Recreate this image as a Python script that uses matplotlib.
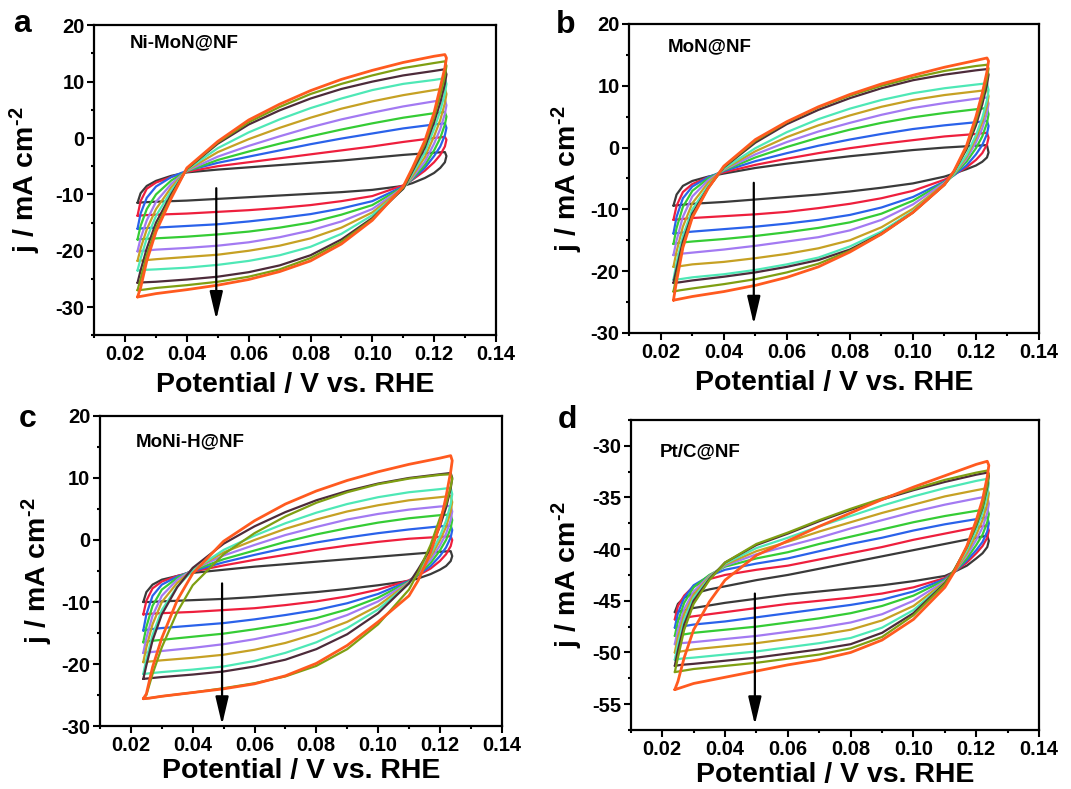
import matplotlib
matplotlib.use('Agg')
import matplotlib.pyplot as plt
from matplotlib.ticker import MultipleLocator, FormatStrFormatter

plt.rcParams['font.family'] = 'Liberation Sans'
plt.rcParams['font.weight'] = 'bold'
plt.rcParams['axes.unicode_minus'] = False
plt.rcParams['mathtext.fontset'] = 'custom'
plt.rcParams['mathtext.rm'] = 'Liberation Sans:bold'
plt.rcParams['mathtext.bf'] = 'Liberation Sans:bold'
plt.rcParams['mathtext.default'] = 'bf'

# potential points (V vs. RHE): forward sweep, then reverse sweep
E_FWD = [0.024, 0.025, 0.027, 0.030, 0.035, 0.040, 0.050, 0.060, 0.070, 0.080, 0.090, 0.100, 0.110, 0.120, 0.1235]
E_REV = [0.124, 0.1235, 0.122, 0.120, 0.117, 0.113, 0.110, 0.100, 0.090, 0.080, 0.070, 0.060, 0.050, 0.040, 0.030, 0.026, 0.024]

# one colour per scan rate, slowest first
RATE_COLORS = ['#3a3a3a', '#ee1f3d', '#2a62ea', '#35cc35', '#a37af2',
               '#c6a124', '#4ee8b6', '#4d2b3a', '#7f9f12', '#ff5a1f']

# Ni-MoN@NF, current density (mA cm-2)
NIMON_FWD = [
    [-11.5, -9.8, -8.5, -7.6, -6.7, -6.1, -5.6, -5.2, -4.8, -4.4, -4.0, -3.5, -3.0, -2.6, -2.5],
    [-13.8, -11.2, -9.0, -7.9, -6.9, -6.0, -5.0, -4.3, -3.6, -2.9, -2.2, -1.5, -0.7, 0.0, 0.2],
    [-16.1, -13.4, -10.6, -8.6, -6.9, -5.8, -4.4, -3.3, -2.2, -1.1, -0.1, 0.8, 1.7, 2.4, 2.6],
    [-18.0, -15.6, -12.6, -10.0, -7.5, -5.9, -3.9, -2.4, -1.0, 0.3, 1.5, 2.6, 3.6, 4.4, 4.6],
    [-20.1, -17.8, -14.6, -11.3, -8.1, -5.8, -3.3, -1.4, 0.3, 1.9, 3.3, 4.5, 5.6, 6.5, 6.8],
    [-21.8, -19.6, -16.2, -12.6, -8.7, -5.7, -2.5, -0.2, 1.8, 3.6, 5.2, 6.5, 7.6, 8.5, 8.8],
    [-23.5, -21.4, -17.8, -13.8, -9.3, -5.6, -1.8, 1.0, 3.3, 5.3, 7.0, 8.5, 9.6, 10.3, 10.6],
    [-25.7, -23.5, -19.6, -15.0, -9.9, -5.5, -1.0, 2.4, 4.9, 7.0, 8.7, 10.0, 11.1, 11.9, 12.2],
    [-27.0, -25.0, -20.8, -15.9, -10.3, -5.4, -0.8, 2.8, 5.5, 7.8, 9.6, 11.1, 12.4, 13.3, 13.6],
    [-28.2, -26.6, -21.8, -16.6, -10.6, -5.3, -0.6, 3.2, 6.0, 8.4, 10.4, 12.0, 13.4, 14.5, 14.8],
]
NIMON_REV = [
    [-3.2, -4.3, -5.3, -6.2, -7.1, -8.0, -8.5, -9.2, -9.6, -9.9, -10.2, -10.5, -10.8, -11.1, -11.3, -11.4, -11.5],
    [-0.3, -1.5, -3.0, -4.3, -5.8, -7.4, -8.4, -10.3, -11.2, -11.9, -12.4, -12.8, -13.1, -13.4, -13.6, -13.7, -13.8],
    [1.8, 0.5, -1.5, -3.2, -5.3, -7.3, -8.6, -11.2, -12.5, -13.5, -14.2, -14.8, -15.3, -15.6, -15.9, -16.0, -16.1],
    [3.8, 2.4, 0.0, -2.2, -4.8, -7.2, -8.7, -11.9, -13.6, -15.0, -15.9, -16.6, -17.1, -17.5, -17.8, -17.9, -18.0],
    [5.8, 4.3, 1.6, -1.0, -4.2, -7.0, -8.8, -12.6, -14.8, -16.4, -17.6, -18.5, -19.1, -19.5, -19.8, -20.0, -20.1],
    [7.8, 6.2, 3.2, 0.3, -3.4, -6.7, -8.9, -13.2, -15.9, -17.8, -19.1, -20.0, -20.7, -21.1, -21.5, -21.7, -21.8],
    [9.6, 7.9, 4.8, 1.6, -2.6, -6.3, -9.0, -13.7, -17.0, -19.3, -20.8, -21.8, -22.5, -23.0, -23.3, -23.4, -23.5],
    [11.3, 9.6, 6.3, 2.8, -1.7, -5.9, -9.0, -14.2, -18.0, -20.8, -22.6, -23.8, -24.6, -25.1, -25.5, -25.6, -25.7],
    [12.8, 11.0, 7.6, 3.7, -1.1, -5.6, -8.8, -14.4, -18.4, -21.3, -23.3, -24.6, -25.5, -26.1, -26.6, -26.9, -27.0],
    [14.2, 12.5, 9.0, 4.5, -0.5, -5.3, -8.6, -14.6, -18.8, -21.8, -23.7, -25.1, -26.1, -26.9, -27.6, -28.0, -28.2],
]

# MoN@NF
MON_FWD = [
    [-9.4, -7.6, -6.2, -5.4, -4.7, -4.2, -3.3, -2.6, -2.0, -1.4, -0.9, -0.4, 0.0, 0.3, 0.4],
    [-11.7, -9.4, -7.2, -5.9, -4.8, -4.0, -2.8, -1.8, -0.9, -0.1, 0.6, 1.2, 1.8, 2.2, 2.4],
    [-13.9, -11.2, -8.2, -6.3, -4.8, -3.8, -2.2, -0.9, 0.3, 1.3, 2.2, 3.0, 3.6, 4.1, 4.3],
    [-15.6, -13.0, -9.6, -7.0, -5.0, -3.7, -1.6, 0.1, 1.6, 2.9, 4.0, 4.9, 5.6, 6.2, 6.4],
    [-17.4, -15.0, -11.2, -7.9, -5.3, -3.6, -1.1, 0.9, 2.6, 4.0, 5.3, 6.4, 7.2, 7.9, 8.1],
    [-19.3, -16.8, -12.8, -9.0, -5.7, -3.5, -0.6, 1.7, 3.6, 5.2, 6.6, 7.7, 8.5, 9.1, 9.3],
    [-21.4, -18.6, -14.3, -10.0, -6.2, -3.4, -0.1, 2.5, 4.6, 6.3, 7.7, 8.8, 9.6, 10.2, 10.4],
    [-21.9, -19.6, -15.2, -10.7, -6.5, -3.2, 0.8, 3.8, 6.1, 8.0, 9.6, 10.9, 11.8, 12.5, 12.7],
    [-23.3, -20.8, -15.9, -11.1, -6.6, -3.1, 1.1, 4.1, 6.5, 8.4, 10.0, 11.3, 12.4, 13.2, 13.4],
    [-24.7, -21.6, -16.2, -11.3, -6.6, -3.0, 1.3, 4.2, 6.6, 8.6, 10.3, 11.7, 13.0, 14.1, 14.5],
]
MON_REV = [
    [-0.8, -1.6, -2.3, -2.9, -3.5, -4.2, -4.7, -5.8, -6.5, -7.1, -7.6, -8.0, -8.4, -8.8, -9.1, -9.3, -9.4],
    [1.6, 0.5, -0.9, -2.0, -3.2, -4.4, -5.2, -7.0, -8.2, -9.1, -9.8, -10.4, -10.8, -11.1, -11.4, -11.6, -11.7],
    [3.5, 2.2, 0.4, -1.1, -2.9, -4.5, -5.5, -8.0, -9.7, -10.9, -11.7, -12.3, -12.8, -13.2, -13.6, -13.8, -13.9],
    [5.4, 4.0, 1.8, -0.1, -2.3, -4.4, -5.6, -8.6, -10.7, -12.1, -13.0, -13.7, -14.3, -14.8, -15.2, -15.4, -15.6],
    [7.1, 5.6, 3.1, 0.8, -1.8, -4.3, -5.7, -9.2, -11.7, -13.4, -14.5, -15.2, -15.9, -16.5, -17.0, -17.2, -17.4],
    [8.3, 6.8, 4.1, 1.5, -1.5, -4.3, -5.9, -9.9, -12.9, -15.0, -16.3, -17.2, -17.9, -18.5, -18.9, -19.2, -19.3],
    [9.3, 7.7, 4.8, 2.0, -1.2, -4.2, -6.0, -10.3, -13.6, -16.0, -17.8, -18.9, -19.8, -20.5, -21.0, -21.3, -21.4],
    [11.8, 10.2, 7.0, 3.6, -0.3, -3.9, -6.0, -10.5, -13.9, -16.5, -18.2, -19.3, -20.2, -20.9, -21.5, -21.8, -21.9],
    [12.8, 11.2, 7.9, 4.3, 0.0, -3.9, -6.0, -10.5, -14.0, -16.7, -18.8, -20.2, -21.3, -22.1, -22.8, -23.1, -23.3],
    [14.0, 12.3, 8.8, 5.0, 0.3, -3.8, -6.0, -10.5, -14.0, -16.9, -19.3, -21.0, -22.3, -23.3, -24.1, -24.5, -24.7],
]

# MoNi-H@NF
MONIH_FWD = [
    [-10.0, -8.4, -7.2, -6.4, -5.8, -5.3, -4.8, -4.3, -3.9, -3.5, -3.1, -2.7, -2.3, -1.9, -1.8],
    [-12.0, -9.8, -7.8, -6.7, -5.8, -5.1, -4.1, -3.2, -2.4, -1.6, -0.9, -0.3, 0.2, 0.5, 0.6],
    [-14.6, -12.0, -9.0, -7.2, -5.9, -5.0, -3.6, -2.4, -1.3, -0.4, 0.4, 1.1, 1.7, 2.2, 2.3],
    [-16.5, -14.0, -10.6, -8.0, -6.1, -4.9, -3.1, -1.7, -0.3, 0.9, 1.9, 2.8, 3.5, 4.0, 4.1],
    [-18.2, -15.8, -12.2, -9.0, -6.4, -4.8, -2.5, -0.8, 0.8, 2.1, 3.3, 4.2, 4.9, 5.4, 5.5],
    [-19.7, -17.3, -13.6, -10.0, -6.9, -4.8, -2.0, 0.0, 1.8, 3.3, 4.6, 5.6, 6.4, 6.9, 7.1],
    [-21.6, -19.2, -15.3, -11.3, -7.5, -4.9, -1.6, 0.7, 2.7, 4.4, 5.8, 6.9, 7.7, 8.2, 8.4],
    [-22.4, -20.2, -16.2, -12.0, -7.6, -4.5, -0.6, 2.2, 4.5, 6.4, 7.9, 9.1, 10.0, 10.6, 10.8],
    [-25.6, -25.0, -21.6, -17.3, -11.6, -7.3, -2.3, 1.1, 3.8, 6.0, 7.7, 9.0, 9.9, 10.5, 10.6],
    [-25.6, -24.8, -20.5, -15.8, -9.7, -5.4, -0.2, 3.1, 5.8, 7.9, 9.6, 11.0, 12.2, 13.2, 13.6],
]
MONIH_REV = [
    [-2.6, -3.4, -4.2, -4.8, -5.5, -6.2, -6.6, -7.3, -7.9, -8.4, -8.8, -9.2, -9.5, -9.7, -9.9, -10.0, -10.0],
    [0.0, -1.0, -2.3, -3.4, -4.6, -5.7, -6.5, -8.0, -9.1, -9.9, -10.5, -11.0, -11.3, -11.6, -11.8, -11.9, -12.0],
    [1.6, 0.4, -1.2, -2.6, -4.2, -5.6, -6.6, -8.7, -10.2, -11.3, -12.1, -12.8, -13.4, -13.8, -14.2, -14.4, -14.6],
    [3.2, 1.9, 0.0, -1.7, -3.7, -5.5, -6.7, -9.3, -11.2, -12.6, -13.6, -14.4, -15.1, -15.6, -16.1, -16.3, -16.5],
    [4.6, 3.2, 1.0, -0.9, -3.2, -5.3, -6.8, -9.9, -12.1, -13.8, -15.0, -16.0, -16.8, -17.4, -17.9, -18.1, -18.2],
    [6.1, 4.6, 2.1, -0.1, -2.7, -5.1, -6.9, -10.6, -13.2, -15.1, -16.6, -17.7, -18.5, -19.0, -19.4, -19.6, -19.7],
    [7.4, 5.8, 3.1, 0.6, -2.3, -5.0, -7.0, -11.2, -14.2, -16.5, -18.2, -19.5, -20.4, -20.9, -21.3, -21.5, -21.6],
    [10.0, 8.3, 5.2, 2.2, -1.4, -4.7, -7.0, -11.8, -15.2, -17.6, -19.3, -20.4, -21.2, -21.7, -22.1, -22.3, -22.4],
    [9.8, 8.6, 5.8, 3.5, -0.8, -5.2, -8.0, -13.6, -17.6, -20.3, -22.0, -23.1, -23.9, -24.6, -25.2, -25.5, -25.6],
    [12.8, 11.0, 7.0, 2.5, -2.0, -6.5, -9.0, -13.2, -17.0, -19.9, -21.9, -23.2, -24.0, -24.6, -25.2, -25.5, -25.6],
]

# Pt/C@NF
PTC_FWD = [
    [-46.1, -45.3, -44.7, -44.3, -43.9, -43.6, -43.0, -42.5, -41.9, -41.3, -40.7, -40.1, -39.5, -38.9, -38.7],
    [-46.8, -45.5, -44.5, -43.6, -42.9, -42.5, -42.0, -41.6, -41.0, -40.4, -39.8, -39.1, -38.5, -37.9, -37.7],
    [-47.6, -46.2, -44.7, -43.5, -42.6, -42.0, -41.4, -40.9, -40.2, -39.5, -38.9, -38.2, -37.6, -37.1, -36.9],
    [-48.4, -47.0, -45.2, -43.7, -42.5, -41.7, -40.9, -40.3, -39.5, -38.8, -38.1, -37.4, -36.8, -36.3, -36.1],
    [-49.2, -47.8, -45.8, -44.1, -42.6, -41.6, -40.5, -39.7, -38.9, -38.0, -37.2, -36.4, -35.7, -35.1, -34.9],
    [-50.0, -48.5, -46.3, -44.4, -42.7, -41.5, -40.2, -39.3, -38.3, -37.4, -36.5, -35.7, -34.9, -34.3, -34.1],
    [-50.7, -49.2, -46.8, -44.7, -42.8, -41.4, -39.9, -38.9, -37.8, -36.8, -35.8, -34.9, -34.1, -33.4, -33.2],
    [-51.3, -49.8, -47.3, -45.0, -42.9, -41.3, -39.6, -38.5, -37.3, -36.2, -35.2, -34.3, -33.5, -32.8, -32.6],
    [-51.9, -50.5, -47.8, -45.3, -43.0, -41.3, -39.5, -38.4, -37.2, -36.1, -35.1, -34.2, -33.3, -32.6, -32.4],
    [-53.6, -52.8, -50.5, -47.8, -45.1, -43.0, -40.6, -39.2, -37.8, -36.5, -35.2, -34.0, -32.9, -31.8, -31.5],
]
PTC_REV = [
    [-39.2, -39.8, -40.4, -40.9, -41.6, -42.2, -42.6, -43.1, -43.5, -43.8, -44.1, -44.4, -44.8, -45.2, -45.7, -46.0, -46.1],
    [-38.2, -38.9, -39.7, -40.4, -41.3, -42.2, -42.8, -43.7, -44.3, -44.7, -45.0, -45.3, -45.7, -46.1, -46.5, -46.7, -46.8],
    [-37.5, -38.3, -39.3, -40.1, -41.1, -42.2, -42.9, -44.1, -44.9, -45.4, -45.8, -46.2, -46.6, -47.0, -47.3, -47.5, -47.6],
    [-36.6, -37.4, -38.6, -39.6, -40.9, -42.2, -43.0, -44.5, -45.5, -46.2, -46.7, -47.1, -47.5, -47.8, -48.1, -48.3, -48.4],
    [-35.6, -36.5, -37.9, -39.1, -40.6, -42.2, -43.1, -45.0, -46.3, -47.1, -47.6, -48.0, -48.4, -48.7, -49.0, -49.1, -49.2],
    [-34.6, -35.6, -37.2, -38.6, -40.4, -42.2, -43.2, -45.5, -46.9, -47.8, -48.3, -48.7, -49.1, -49.4, -49.7, -49.9, -50.0],
    [-33.6, -34.7, -36.5, -38.1, -40.1, -42.1, -43.3, -45.9, -47.6, -48.6, -49.1, -49.5, -49.9, -50.2, -50.5, -50.6, -50.7],
    [-32.9, -34.0, -36.0, -37.7, -39.8, -42.0, -43.3, -46.2, -48.1, -49.2, -49.7, -50.1, -50.5, -50.8, -51.1, -51.2, -51.3],
    [-32.7, -33.8, -35.9, -37.6, -39.8, -42.0, -43.4, -46.4, -48.5, -49.6, -50.2, -50.6, -51.0, -51.3, -51.6, -51.8, -51.9],
    [-31.9, -33.0, -35.2, -37.2, -39.7, -42.2, -43.7, -46.8, -48.8, -50.0, -50.7, -51.2, -51.8, -52.4, -53.0, -53.4, -53.6],
]


def draw_cv(ax, fwd, rev):
    for color, up, down in zip(RATE_COLORS, fwd, rev):
        lw = 2.0 if color == RATE_COLORS[-1] else 1.6
        ax.plot(E_FWD + E_REV, up + down, color=color, lw=lw,
                solid_joinstyle='round', solid_capstyle='round')


def style(ax, ylim, ymajor, label, label_pos, arrow, ylab_x, xlab_y):
    ax.set_xlim(0.01, 0.14)
    ax.set_ylim(*ylim)
    ax.xaxis.set_major_locator(MultipleLocator(0.02))
    ax.xaxis.set_minor_locator(MultipleLocator(0.01))
    ax.xaxis.set_major_formatter(FormatStrFormatter('%.2f'))
    ax.yaxis.set_major_locator(MultipleLocator(ymajor))
    ax.yaxis.set_minor_locator(MultipleLocator(ymajor / 2))
    ax.tick_params(which='both', direction='out', width=1.5, labelsize=14.5, pad=2)
    ax.tick_params(which='major', length=5)
    ax.tick_params(which='minor', length=2.5)
    for sp in ax.spines.values():
        sp.set_linewidth(1.6)
    for t in ax.get_xticklabels() + ax.get_yticklabels():
        t.set_fontweight('bold')
    ax.set_xlabel('Potential / V vs. RHE', fontsize=20.5, fontweight='bold')
    # hyphen (U+2010) keeps the short dash of the original exponent
    ax.set_ylabel('j / mA cm$^{\u2010 2}$'.replace(' 2', '2'), fontsize=20.5, fontweight='bold')
    ax.xaxis.set_label_coords(0.5, xlab_y)
    ax.yaxis.set_label_coords(ylab_x, 0.5)
    ax.text(label_pos[0], label_pos[1], label, transform=ax.transAxes,
            ha='left', va='center', fontsize=13.5, fontweight='bold')
    ax.annotate('', xy=(0.0495, arrow[1]), xytext=(0.0495, arrow[0]),
                arrowprops=dict(arrowstyle='-|>,head_length=0.85,head_width=0.2',
                                color='black', lw=1.6, mutation_scale=20,
                                shrinkA=0, shrinkB=0))


fig = plt.figure(figsize=(10.71, 7.89), dpi=100)
fig.patch.set_facecolor('white')

ax_a = fig.add_axes([0.088, 0.575, 0.375, 0.393])
draw_cv(ax_a, NIMON_FWD, NIMON_REV)
style(ax_a, (-35, 20), 10, 'Ni-MoN@NF', (0.089, 0.942), (-8.9, -32.2), -0.128, -0.119)

ax_b = fig.add_axes([0.5876, 0.578, 0.3825, 0.3916])
draw_cv(ax_b, MON_FWD, MON_REV)
style(ax_b, (-30, 20), 10, 'MoN@NF', (0.094, 0.927), (-5.7, -28.6), -0.108, -0.119)

ax_c = fig.add_axes([0.0934, 0.0798, 0.375, 0.393])
draw_cv(ax_c, MONIH_FWD, MONIH_REV)
style(ax_c, (-30, 20), 10, 'MoNi-H@NF', (0.0896, 0.917), (-7.0, -29.8), -0.112, -0.103)

ax_d = fig.add_axes([0.589, 0.0748, 0.3812, 0.393])
draw_cv(ax_d, PTC_FWD, PTC_REV)
style(ax_d, (-57.5, -27.5), 5, 'Pt/C@NF', (0.07, 0.898), (-44.3, -57.0), -0.112, -0.103)

for letter, x, y in [('a', 0.0205, 0.9696), ('b', 0.5285, 0.968),
                     ('c', 0.026, 0.469), ('d', 0.530, 0.468)]:
    fig.text(x, y, letter, ha='center', va='center', fontsize=23, fontweight='bold')

fig.savefig('out.png', dpi=100)
